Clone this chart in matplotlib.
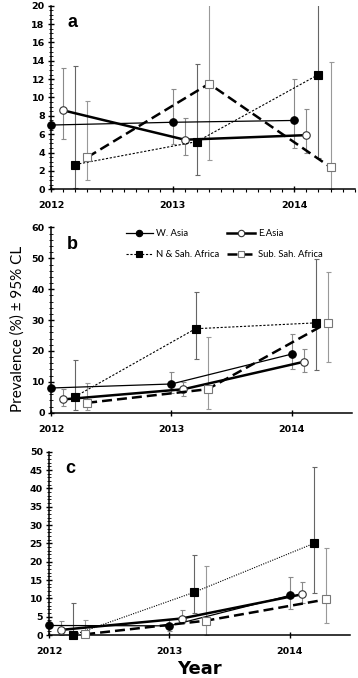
import numpy as np
import matplotlib.pyplot as plt
from matplotlib.ticker import MultipleLocator

nan = np.nan

years = [2012, 2013, 2014]
regions = ['W. Asia', 'E.Asia', 'N & Sah. Africa', 'Sub. Sah. Africa']

# panel a
a_w = [7.0, 7.3, 7.5]
a_w_lo = [nan, 4.9, 4.5]
a_w_hi = [nan, 10.9, 12.0]
a_e = [8.6, 5.4, 5.9]
a_e_lo = [5.5, 3.7, 4.0]
a_e_hi = [13.2, 7.8, 8.7]
a_n = [2.7, 5.2, 12.5]
a_n_lo = [0.1, 1.6, 3.4]
a_n_hi = [13.4, 13.7, 25.0]
a_s = [3.5, 11.5, 2.4]
a_s_lo = [1.0, 3.2, 0.0]
a_s_hi = [9.6, 24.0, 13.9]

# panel b
b_w = [8.0, 9.3, 19.0]
b_w_lo = [nan, 6.5, 14.1]
b_w_hi = [nan, 13.1, 25.4]
b_e = [4.3, 7.6, 16.5]
b_e_lo = [2.2, 5.4, 13.1]
b_e_hi = [7.8, 10.0, 20.5]
b_n = [5.2, 27.2, 29.1]
b_n_lo = [0.9, 17.5, 13.7]
b_n_hi = [17.1, 39.2, 49.9]
b_s = [3.2, 7.6, 29.2]
b_s_lo = [0.9, 1.1, 16.4]
b_s_hi = [9.5, 24.4, 45.6]

# panel c
c_w = [2.6, 2.5, 10.8]
c_w_lo = [nan, 1.1, 7.0]
c_w_hi = [nan, 4.5, 15.8]
c_e = [1.4, 4.5, 11.1]
c_e_lo = [0.0, 3.4, 8.6]
c_e_hi = [3.8, 6.7, 14.5]
c_n = [0.0, 11.6, 25.0]
c_n_lo = [0.0, 5.9, 11.4]
c_n_hi = [8.6, 21.7, 45.7]
c_s = [0.2, 3.9, 9.7]
c_s_lo = [0.0, 0.0, 3.2]
c_s_hi = [4.1, 18.8, 23.8]

styles = [
    dict(marker='o', mfc='black', mec='black', color='black', ls='-', lw=0.9),
    dict(marker='o', mfc='white', mec='#333333', color='black', ls='-', lw=1.8),
    dict(marker='s', mfc='black', mec='black', color='black', ls=(0, (2, 1.5)), lw=0.8),
    dict(marker='s', mfc='white', mec='#777777', color='black', ls=(0, (4, 2)), lw=1.8),
]
offsets = [0.0, 0.1, 0.2, 0.3]
ecolors = ['#8a8a8a', '#8a8a8a', '#666666', '#999999']

plt.rcParams['font.family'] = 'DejaVu Sans'

fig = plt.figure(figsize=(3.58, 6.78), dpi=100)
ax_a = fig.add_axes([0.1425, 0.7208, 0.849, 0.2708])
ax_b = fig.add_axes([0.1425, 0.3913, 0.841, 0.2732])
ax_c = fig.add_axes([0.137, 0.0634, 0.841, 0.2704])

panels = [
    (ax_a, 'a', 20, 2, 0.5,
     [(a_w, a_w_lo, a_w_hi), (a_e, a_e_lo, a_e_hi), (a_n, a_n_lo, a_n_hi), (a_s, a_s_lo, a_s_hi)]),
    (ax_b, 'b', 60, 10, 2,
     [(b_w, b_w_lo, b_w_hi), (b_e, b_e_lo, b_e_hi), (b_n, b_n_lo, b_n_hi), (b_s, b_s_lo, b_s_hi)]),
    (ax_c, 'c', 50, 5, 1,
     [(c_w, c_w_lo, c_w_hi), (c_e, c_e_lo, c_e_hi), (c_n, c_n_lo, c_n_hi), (c_s, c_s_lo, c_s_hi)]),
]

for ax, letter, ymax, ymaj, ymin, series in panels:
    handles = []
    for i, (v, lo, hi) in enumerate(series):
        v = np.array(v)
        x = np.array(years) + offsets[i]
        yerr = [v - np.array(lo), np.array(hi) - v]
        ax.errorbar(x, v, yerr=yerr, fmt='none', ecolor=ecolors[i],
                    elinewidth=0.8, capsize=1.8, capthick=0.8, zorder=1)
        st = dict(styles[i])
        if letter == 'c' and i == 2:
            st['ls'] = (0, (1, 1.2))
        h, = ax.plot(x, v, ms=5.4, mew=0.8, zorder=3, label=regions[i],
                     clip_on=False, **st)
        handles.append(h)
    ax.set_xlim(2012, 2014.5)
    ax.set_ylim(0, ymax)
    ax.set_xticks(years)
    if letter == 'a':
        ax.xaxis.set_minor_locator(MultipleLocator(0.1))
    ax.yaxis.set_major_locator(MultipleLocator(ymaj))
    ax.yaxis.set_minor_locator(MultipleLocator(ymin))
    for s in ['top', 'right']:
        ax.spines[s].set_visible(False)
    for s in ['left', 'bottom']:
        ax.spines[s].set_linewidth(1.1)
    ax.tick_params(axis='both', which='major', direction='inout', length=5,
                   width=1.0, labelsize=6.8, pad=2)
    ax.tick_params(axis='y', which='minor', direction='inout', length=2.5, width=0.6)
    ax.tick_params(axis='x', which='minor', direction='out', length=2.5, width=0.8)
    ax.tick_params(axis='x', which='major', pad=6)
    for lab in ax.get_xticklabels() + ax.get_yticklabels():
        lab.set_fontweight('bold')
    ax.text(0.07, 0.91, letter, transform=ax.transAxes, fontsize=13,
            fontweight='bold', family='Liberation Sans', ha='center', va='center')
    if letter == 'b':
        order = [handles[0], handles[2], handles[1], handles[3]]
        ax.legend(order, [h.get_label() for h in order], ncol=2, frameon=False,
                  loc='upper left', bbox_to_anchor=(0.22, 1.035),
                  handlelength=2.9, handletextpad=0.35, columnspacing=0.8,
                  labelspacing=1.2, numpoints=1, markerscale=0.85,
                  prop={'family': 'Lato', 'size': 6.8})
        ax.set_ylabel('Prevalence (%) ± 95% CL', family='Lato', fontsize=11)
        ax.yaxis.set_label_coords(-0.088, 0.455)

ax_c.set_xlabel('Year', fontsize=13, fontweight='bold', labelpad=3)

fig.savefig('out.png', dpi=100)
